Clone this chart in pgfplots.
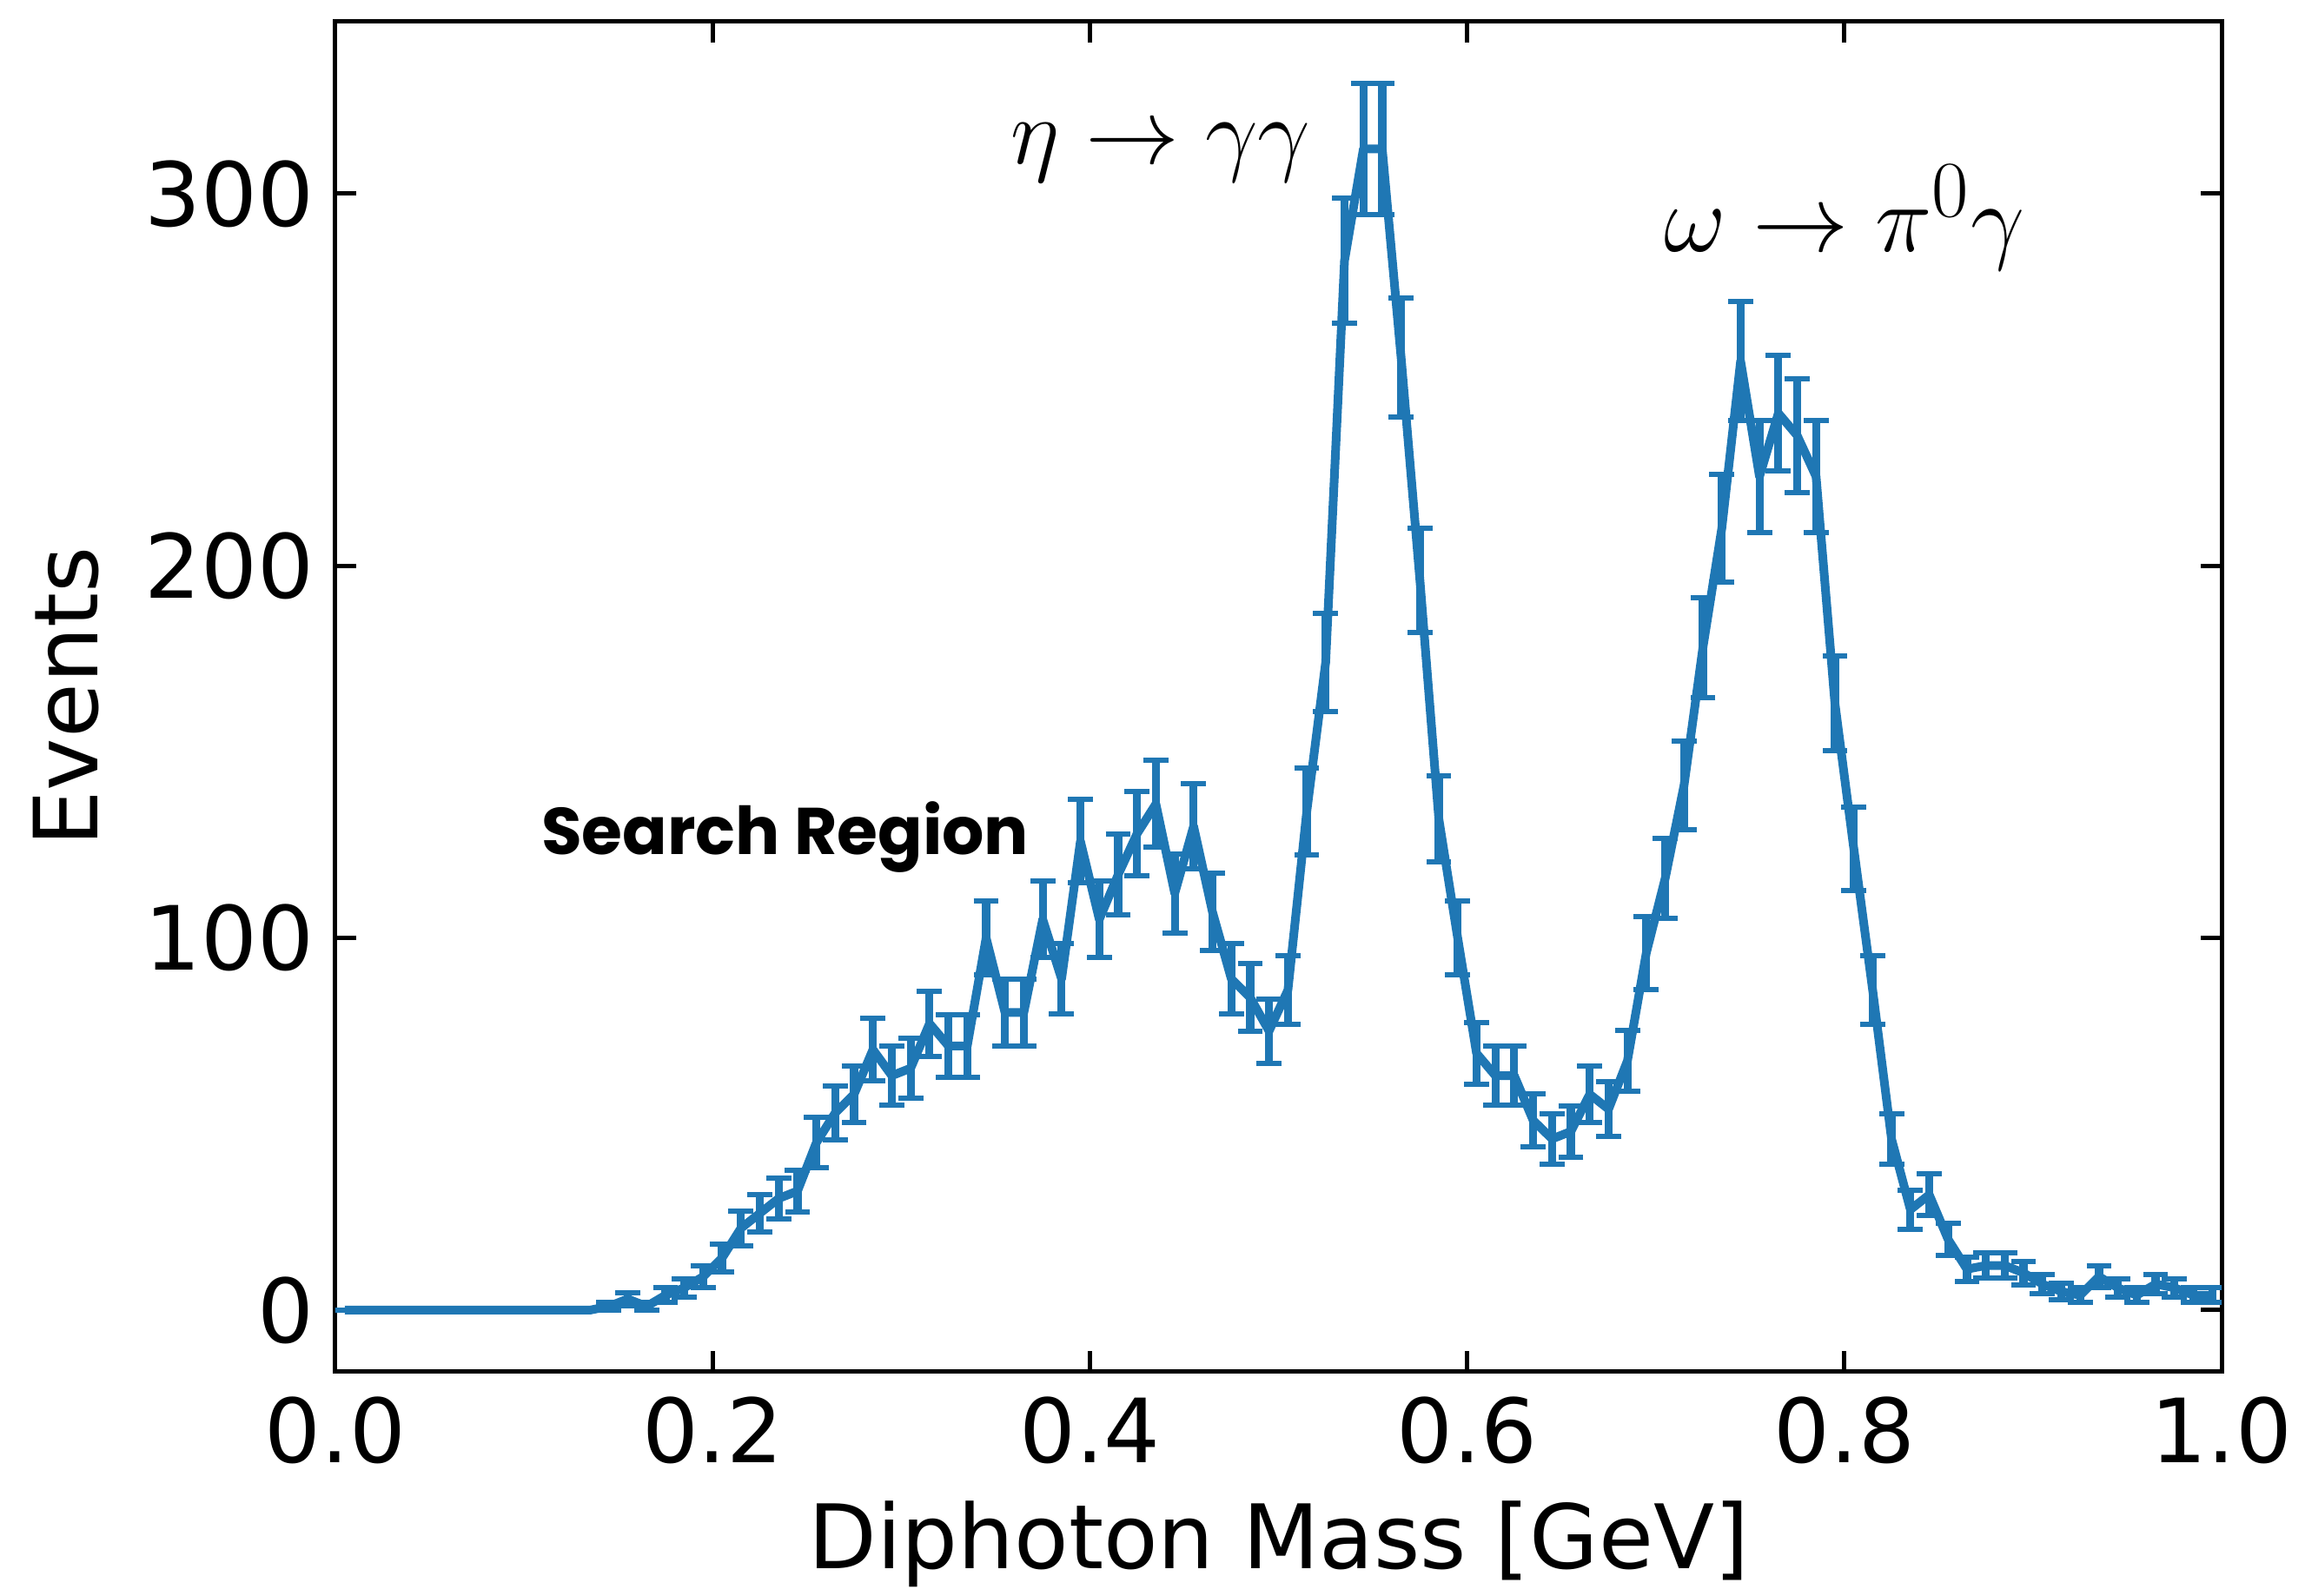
\documentclass[border=0pt]{standalone}
\usepackage{fontspec}
\setmainfont{DejaVu Sans}
\newfontfamily\srfont{Poppins}
\usepackage{pgfplots}
\pgfplotsset{compat=1.18}
\usepackage{pgfplotstable}
\definecolor{tabblue}{HTML}{1F77B4}

\pgfplotstableread{
x y e
0.005 0 0
0.015 0 0
0.025 0 0
0.035 0 0
0.045 0 0
0.055 0 0
0.065 0 0
0.075 0 0
0.085 0 0
0.095 0 0
0.105 0 0
0.115 0 0
0.125 0 0
0.135 0 0
0.145 1 1
0.155 3 1.73
0.165 1 1
0.175 4 2
0.185 6 2.45
0.195 9 3
0.205 14 3.74
0.215 22 4.69
0.225 26 5.10
0.235 30 5.48
0.245 32 5.66
0.255 45 6.71
0.265 53 7.28
0.275 58 7.62
0.285 70 8.37
0.295 63 7.94
0.305 65 8.06
0.315 77 8.77
0.325 71 8.43
0.335 71 8.43
0.345 100 10
0.355 80 8.94
0.365 80 8.94
0.375 105 10.25
0.385 89 9.43
0.395 126 11.22
0.405 105 10.25
0.415 117 10.82
0.425 128 11.31
0.435 136 11.66
0.445 112 10.58
0.455 130 11.40
0.465 107 10.34
0.475 89 9.43
0.485 84 9.17
0.495 75 8.66
0.505 86 9.27
0.515 134 11.58
0.525 174 13.19
0.535 282 16.79
0.545 312 17.66
0.555 312 17.66
0.565 256 16
0.575 196 14
0.585 132 11.49
0.595 100 10
0.605 69 8.31
0.615 63 7.94
0.625 63 7.94
0.635 51 7.14
0.645 46 6.78
0.655 48 6.93
0.665 58 7.62
0.675 54 7.35
0.685 67 8.19
0.695 96 9.80
0.705 116 10.77
0.715 141 11.87
0.725 178 13.34
0.735 210 14.49
0.745 255 15.97
0.755 224 14.97
0.765 241 15.52
0.775 235 15.33
0.785 224 14.97
0.795 163 12.77
0.805 124 11.14
0.815 86 9.27
0.825 46 6.78
0.835 27 5.20
0.845 31 5.57
0.855 19 4.36
0.865 11 3.32
0.875 12 3.46
0.885 12 3.46
0.895 10 3.16
0.905 7 2.65
0.915 5 2.24
0.925 4 2
0.935 9 3
0.945 6 2.45
0.955 4 2
0.965 7 2.65
0.975 6 2.45
0.985 4 2
0.995 4 2
}\datatable

\begin{document}
\begin{tikzpicture}
\path[use as bounding box] (-96.5pt,-64.35pt) rectangle (566.75pt,394.65pt);
\begin{axis}[
  at={(0,0)}, anchor=south west,
  scale only axis, width=542.75pt, height=388.4pt,
  xmin=0, xmax=1, ymin=-16.5, ymax=346.2,
  xtick={0,0.2,0.4,0.6,0.8,1.0},
  ytick={0,100,200,300},
  tick align=inside, xtick pos=both, ytick pos=both,
  major tick length=6pt,
  every tick/.style={black, line width=1.25pt},
  axis line style={line width=1.25pt},
  /pgf/number format/assume math mode=true,
  tick label style={font=\fontsize{25.5}{30}\selectfont, inner sep=0pt},
  x tick label style={/pgf/number format/.cd, fixed, fixed zerofill, precision=1, /tikz/.cd},
  y tick label style={/pgf/number format/.cd, fixed, precision=0, /tikz/.cd},
  scaled ticks=false,
  xticklabel shift=7pt,
  yticklabel shift=6pt,
  clip=true,
]
\addplot[tabblue, line width=2.5pt, line join=round, no markers,
  error bars/.cd, y dir=both, y explicit,
  error bar style={line width=2.3pt, tabblue},
  error mark options={rotate=90, mark size=3.6pt, line width=1.5pt, tabblue}]
  table[x=x, y=y, y error=e] {\datatable};
\node[font=\fontsize{24.88}{30}\selectfont, scale=1.085] at (axis cs:0.4375,311) {$\eta\rightarrow\gamma\gamma$};
\node[font=\fontsize{24.88}{30}\selectfont, scale=1.11] at (axis cs:0.800,293.5) {$\omega\rightarrow\pi^0\gamma$};
\node[font=\srfont\bfseries\fontsize{19}{23}\selectfont] at (axis cs:0.2384,127.2) {Search Region};
\end{axis}
\node[font=\fontsize{25.6}{30}\selectfont] at (271.4pt,-49.6pt) {Diphoton Mass [GeV]};
\node[font=\fontsize{25.5}{30}\selectfont, rotate=90] at (-77.5pt,194.2pt) {Events};
\end{tikzpicture}
\end{document}
